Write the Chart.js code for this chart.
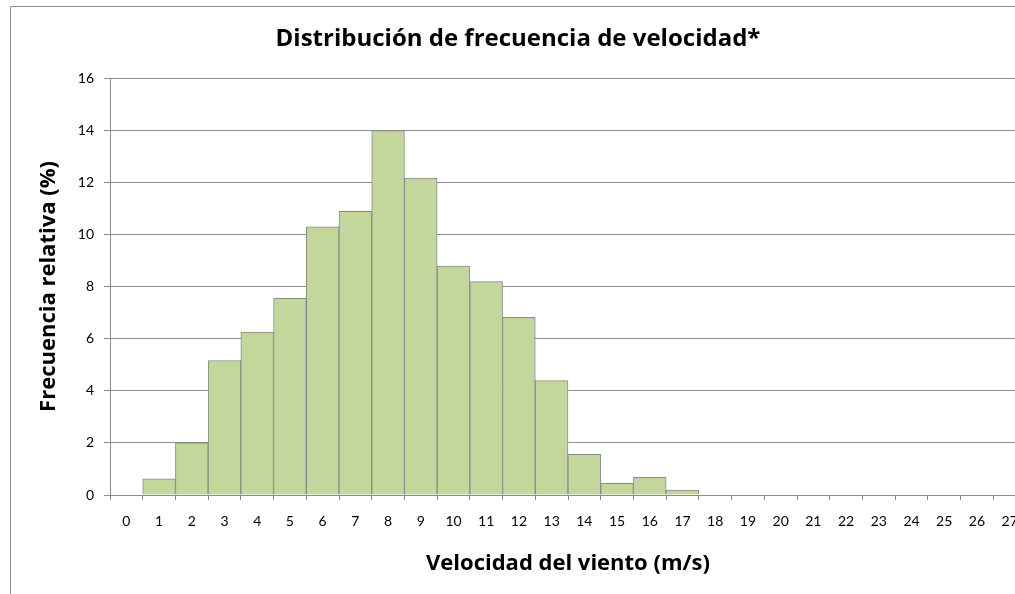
<!DOCTYPE html>
<html>
<head>
<meta charset="utf-8">
<script src="https://cdn.jsdelivr.net/npm/chart.js@4/dist/chart.umd.min.js"></script>
<style>
  html, body { margin: 0; padding: 0; overflow: hidden; background: #fff; }
  #wrap { position: absolute; left: 0; top: 0; width: 1040px; height: 600px; }
</style>
</head>
<body>
<div id="wrap"><canvas id="c" width="1040" height="600"></canvas></div>
<script>
const categories = ['0','1','2','3','4','5','6','7','8','9','10','11','12','13','14','15','16','17','18','19','20','21','22','23','24','25','26','27'];
const frecuencia = [null, 0.62, 2.0, 5.16, 6.25, 7.55, 10.29, 10.88, 13.98, 12.16, 8.78, 8.19, 6.82, 4.39, 1.56, 0.45, 0.68, 0.19, null, null, null, null, null, null, null, null, null, null];
const yTicks = [0, 2, 4, 6, 8, 10, 12, 14, 16];

const FONT = "Lato, 'Open Sans', sans-serif";
const TFONT = "'Open Sans', Lato, sans-serif";
const GRID = '#8c8c8c';

const framePlugin = {
  id: 'frame',
  beforeDraw(chart) {
    const ctx = chart.ctx;
    ctx.save();
    ctx.fillStyle = '#ffffff';
    ctx.fillRect(0, 0, chart.width, chart.height);
    ctx.strokeStyle = '#8c8c8c';
    ctx.lineWidth = 1;
    ctx.beginPath();
    ctx.moveTo(10.5, chart.height);
    ctx.lineTo(10.5, 6.5);
    ctx.lineTo(chart.width, 6.5);
    ctx.stroke();
    ctx.restore();
  }
};

new Chart(document.getElementById('c'), {
  type: 'bar',
  data: {
    labels: categories,
    datasets: [{
      label: 'Frecuencia relativa',
      data: frecuencia,
      backgroundColor: '#c3d69b',
      borderColor: '#8a8a8a',
      borderWidth: 1,
      barPercentage: 1.0,
      categoryPercentage: 1.0
    }]
  },
  options: {
    responsive: false,
    animation: false,
    devicePixelRatio: 1,
    layout: { padding: { left: 10, right: 14, top: 0, bottom: 0 } },
    plugins: {
      legend: { display: false },
      tooltip: { enabled: false },
      title: {
        display: true,
        text: 'Distribución de frecuencia de velocidad*',
        color: '#000',
        font: { family: TFONT, size: 24, weight: 'bold' },
        padding: { top: 25, bottom: 24.2 }
      }
    },
    scales: {
      x: {
        type: 'category',
        offset: true,
        grid: { display: true, offset: true, drawOnChartArea: false, drawTicks: true, tickLength: 5, color: GRID },
        border: { display: true, color: GRID },
        ticks: { color: '#000', font: { family: FONT, size: 14 }, padding: 13, maxRotation: 0, autoSkip: false },
        title: {
          display: true,
          text: 'Velocidad del viento (m/s)',
          color: '#000',
          font: { family: TFONT, size: 22, weight: 'bold' },
          padding: { top: 0, bottom: 22.8 }
        },
        afterFit(scale) { scale.height = 105; }
      },
      y: {
        min: 0,
        max: 16,
        afterBuildTicks(scale) { scale.ticks = yTicks.map(v => ({ value: v })); },
        grid: { color: GRID, tickLength: 6 },
        border: { display: true, color: GRID },
        ticks: { color: '#000', font: { family: FONT, size: 14 }, padding: 10 },
        title: {
          display: true,
          text: 'Frecuencia relativa (%)',
          color: '#000',
          font: { family: TFONT, size: 22, weight: 'bold' },
          padding: { top: 25.8, bottom: 0 }
        },
        afterFit(scale) { scale.width = 100; }
      }
    }
  },
  plugins: [framePlugin]
});
</script>
</body>
</html>
